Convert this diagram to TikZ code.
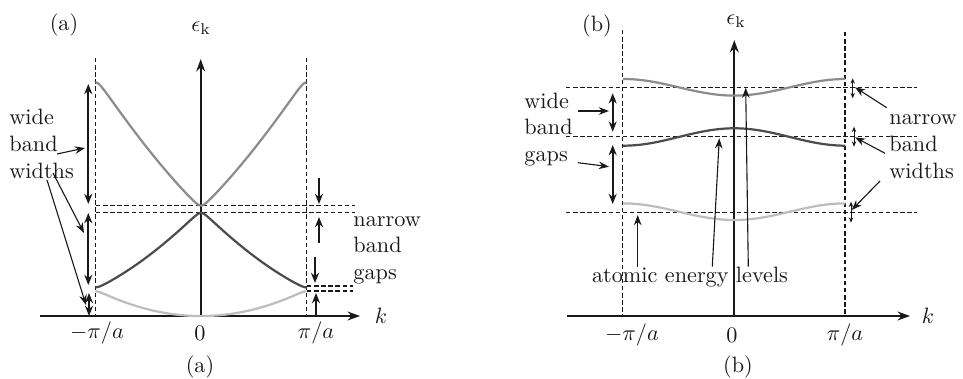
\documentclass[tikz,border=0pt]{standalone}
\usetikzlibrary{arrows.meta,positioning,calc}
\definecolor{cBandHi}{gray}{0.55}
\definecolor{cBandMid}{gray}{0.3}
\definecolor{cBandLo}{gray}{0.74}
\definecolor{cInk}{gray}{0.1}
\tikzset{
  axis/.style={-{Stealth[length=5.6pt,width=4pt]},line width=0.8pt,draw=cInk},
  guide/.style={line width=0.5pt,dash pattern=on 2pt off 1.2pt,draw=cInk},
  span/.style={{Stealth[length=4.6pt,width=3.6pt]}-{Stealth[length=4.6pt,width=3.6pt]},line width=0.85pt,draw=cInk},
  tinyspan/.style={{Stealth[length=2.4pt,width=2pt]}-{Stealth[length=2.4pt,width=2pt]},line width=0.45pt,draw=cInk},
  pointer/.style={-{Stealth[length=4.6pt,width=3.4pt]},line width=0.5pt,draw=cInk},
  gapmark/.style={-{Stealth[length=4.6pt,width=3.6pt]},line width=0.75pt,draw=cInk},
  band/.style={line width=1pt},
  label/.style={inner sep=0pt,text=cInk,align=left}
}

\begin{document}
\begin{tikzpicture}[x=0.45pt,y=-0.45pt,
  declare function={
    bone(\a)=\a*\a-2*\a+2-sqrt((2*\a-2)*(2*\a-2)+0.0056);
    btwo(\a)=\a*\a+2*\a+2+sqrt((2*\a-2)*(2*\a-2)+0.0056)-sqrt(16*\a*\a+0.0196);
    bthree(\a)=\a*\a-6*\a+10+sqrt(16*\a*\a+0.0196)-sqrt((6-6*\a)*(6-6*\a)+0.0625);
  }]
  \useasboundingbox (0,0) rectangle (963,379);

  % ---- panel (a): nearly free electrons
  \node[label] (tagA) at (64,25) {(a)};
  \node[label] (epsA) at (201,28) {$\epsilon_{\mathrm{k}}$};
  \coordinate (kleftA) at (40,316);
  \coordinate (krightA) at (360,316);
  \coordinate (originA) at (200.7,316);
  \coordinate (etopA) at (200.7,59);
  \draw[axis] (kleftA) -- (krightA);
  \draw[axis] (originA) -- (etopA);
  \node[label] (kA) at (381,316) {$k$};
  \node[label] (mpiA) at (97,333) {$-\pi/a$};
  \node[label] (zeroA) at (200,333) {$0$};
  \node[label] (piA) at (316,333) {$\pi/a$};
  \node[label] (capA) at (200,367) {(a)};

  \draw[guide] (95.7,58) -- (95.7,316);
  \draw[guide] (306.7,58) -- (306.7,316);
  \draw[guide] (96,205.7) -- (355,205.7);
  \draw[guide] (96,212.7) -- (355,212.7);
  \draw[guide] (307,286) -- (353,286);
  \draw[guide] (307,291) -- (353,291);

  \draw[band,draw=cBandLo] plot[domain=-1:1,samples=121] ({201+105.5*\x},{316-26.7*bone(abs(\x))});
  \draw[band,draw=cBandMid] plot[domain=-1:1,samples=121] ({201+105.5*\x},{316-26.7*btwo(abs(\x))});
  \draw[band,draw=cBandHi] plot[domain=-1:1,samples=161] ({201+105.5*\x},{316-26.7*bthree(abs(\x))});

  \draw[span] (88.3,84) -- (88.3,204);
  \draw[span] (88.3,213) -- (88.3,285);
  \draw[span] (89,293) -- (89,316);
  \node[label,anchor=west] (wideA) at (9,144) {wide\\band\\widths};
  \draw[pointer] (57,154) -- (85,148);
  \draw[pointer] (53,173) -- (84,233);
  \draw[pointer] (47,180) -- (86,305);

  \draw[gapmark] (319,178) -- (319,204);
  \draw[gapmark] (319,243) -- (319,217);
  \draw[gapmark] (315,257) -- (315,283);
  \draw[gapmark] (316,316) -- (316,293);
  \node[label,anchor=west] (narrowA) at (353,250) {narrow\\band\\gaps};

  % ---- panel (b): tight binding
  \node[label] (tagB) at (597,26) {(b)};
  \node[label] (epsB) at (736,21) {$\epsilon_{\mathrm{k}}$};
  \coordinate (kleftB) at (567,316);
  \coordinate (krightB) at (910,316);
  \coordinate (originB) at (734.3,316);
  \coordinate (etopB) at (734.3,40);
  \draw[axis] (kleftB) -- (krightB);
  \draw[axis] (originB) -- (etopB);
  \node[label] (kB) at (928,316) {$k$};
  \node[label] (mpiB) at (632,335) {$-\pi/a$};
  \node[label] (zeroB) at (732,335) {$0$};
  \node[label] (piB) at (845,335) {$\pi/a$};
  \node[label] (capB) at (738,367) {(b)};

  \draw[guide] (622.7,30) -- (622.7,316);
  \draw[guide] (845,32) -- (845,316);
  \foreach \lev in {87.7,136.7,212.3}
    \draw[guide] (566,\lev) -- (917,\lev);

  \draw[band,draw=cBandHi] plot[domain=-1:1,samples=81] ({734.3+111.2*\x},{87.3+8.3*cos(180*\x)});
  \draw[band,draw=cBandMid] plot[domain=-1:1,samples=81] ({734.3+111.2*\x},{137-8.7*cos(180*\x)});
  \draw[band,draw=cBandLo] plot[domain=-1:1,samples=81] ({734.3+111.2*\x},{211.7+8.3*cos(180*\x)});

  \draw[span] (612.7,93.3) -- (612.7,131.7);
  \draw[span] (612.7,145) -- (612.7,204);
  \node[label,anchor=west] (wideB) at (524,114) {wide\\band};
  \node[label,anchor=west] (gapsB) at (524,159) {gaps};
  \draw[pointer] (578,111) -- (609,111);
  \draw[pointer] (578,162.7) -- (609,166.7);

  \draw[tinyspan] (852.7,78.3) -- (852.7,98.3);
  \draw[tinyspan] (854,126.7) -- (854,146.7);
  \draw[tinyspan] (851,201.7) -- (851,222.7);
  \node[label,anchor=west] (narrowB) at (889,146.7) {narrow\\band\\widths};
  \draw[pointer] (886.7,107.7) -- (855,87.3);
  \draw[pointer] (885,153.3) -- (855,137.3);
  \draw[pointer] (880,181) -- (851.7,210);

  \node[label] (levels) at (690,277) {atomic energy levels};
  \draw[pointer] (levels.north -| 637.7,0) -- (637.7,215);
  \draw[pointer] (levels.north -| 712.3,0) -- (719.3,138.3);
  \draw[pointer] (levels.north -| 748.3,0) -- (745.7,87.7);
\end{tikzpicture}
\end{document}
